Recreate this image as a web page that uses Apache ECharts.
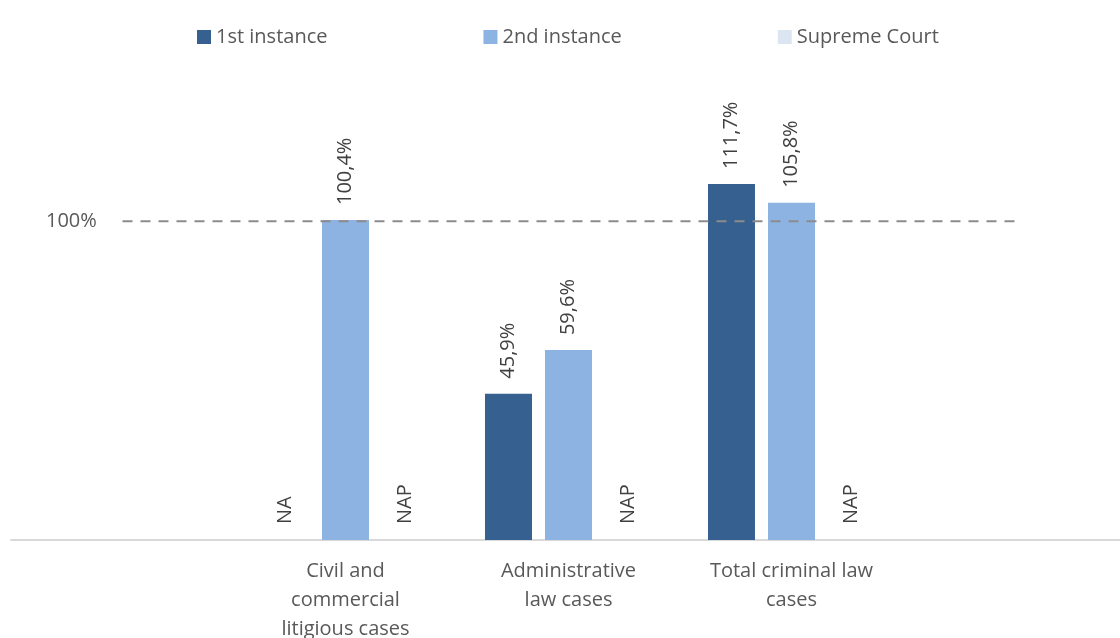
<!DOCTYPE html>
<html>
<head>
<meta charset="utf-8">
<script src="https://cdn.jsdelivr.net/npm/echarts@6/dist/echarts.min.js"></script>
<style>html,body{margin:0;padding:0;background:#fff;}#c{width:1120px;height:638px;}</style>
</head>
<body>
<div id="c"></div>
<script>
const categories = ['', 'Civil and\ncommercial\nlitigious cases', 'Administrative\nlaw cases', 'Total criminal law\ncases', ''];
const seriesNames = ['1st instance', '2nd instance', 'Supreme Court'];
const firstInstance = [null, 0, 45.9, 111.7, null];
const firstNotes = [null, 'NA', null, null, null];
const secondInstance = [null, 100.4, 59.6, 105.8, null];
const secondNotes = [null, null, null, null, null];
const supremeCourt = [null, 0, 0, 0, null];
const supremeNotes = [null, 'NAP', 'NAP', 'NAP', null];
const reference = [100, 100, 100, 100, 100];
const yTicks = [100];

const colors = ['#36608F', '#8DB3E2', '#DCE6F2'];
const FONT = 'Open Sans';

function items(values, notes) {
  return values.map((v, i) => {
    if (v === null) return null;
    if (notes[i]) return { value: v, note: notes[i], label: { distance: 16 } };
    return { value: v };
  });
}
function fmt(p) {
  if (p.data && p.data.note) return p.data.note;
  return p.value.toFixed(1).replace('.', ',') + '%';
}
const barLabel = {
  show: true, position: 'top', rotate: 90, align: 'left', verticalAlign: 'middle',
  distance: 15, fontFamily: FONT, fontSize: 20, color: '#404040', formatter: fmt
};

const chart = echarts.init(document.getElementById('c'), null, { renderer: 'canvas' });
chart.setOption({
  animation: false,
  backgroundColor: '#fff',
  legend: {
    data: seriesNames, top: 22, left: 192, itemWidth: 14, itemHeight: 14, itemGap: 156,
    icon: 'rect', textStyle: { fontFamily: FONT, fontSize: 20, color: '#595959' }
  },
  grid: { left: 11, width: 1115, top: 62, bottom: 98, containLabel: false, outerBoundsMode: 'none' },
  xAxis: {
    type: 'category', data: categories,
    axisLine: { lineStyle: { color: '#D9D9D9', width: 2 } },
    axisTick: { show: false },
    axisLabel: { fontFamily: FONT, fontSize: 20, color: '#595959', margin: 17, lineHeight: 29, interval: 0 }
  },
  yAxis: {
    type: 'value', min: 0, max: 150, interval: 100,
    axisLine: { show: false }, axisTick: { show: false }, splitLine: { show: false },
    axisLabel: {
      inside: true, margin: 35, fontFamily: FONT, fontSize: 20, color: '#595959',
      formatter: v => yTicks.includes(v) ? v + '%' : ''
    }
  },
  series: [
    { name: seriesNames[0], type: 'bar', barWidth: 47, barGap: '27.7%', data: items(firstInstance, firstNotes), itemStyle: { color: colors[0] }, label: barLabel },
    { name: seriesNames[1], type: 'bar', barWidth: 47, barGap: '27.7%', data: items(secondInstance, secondNotes), itemStyle: { color: colors[1] }, label: barLabel },
    { name: seriesNames[2], type: 'bar', barWidth: 47, barGap: '27.7%', data: items(supremeCourt, supremeNotes), itemStyle: { color: colors[2] }, label: barLabel },
    { name: 'ref', type: 'line', data: reference, symbol: 'none', z: 5, silent: true,
      lineStyle: { color: '#8C8C8C', width: 2, type: [10, 8] } }
  ]
});
</script>
</body>
</html>
